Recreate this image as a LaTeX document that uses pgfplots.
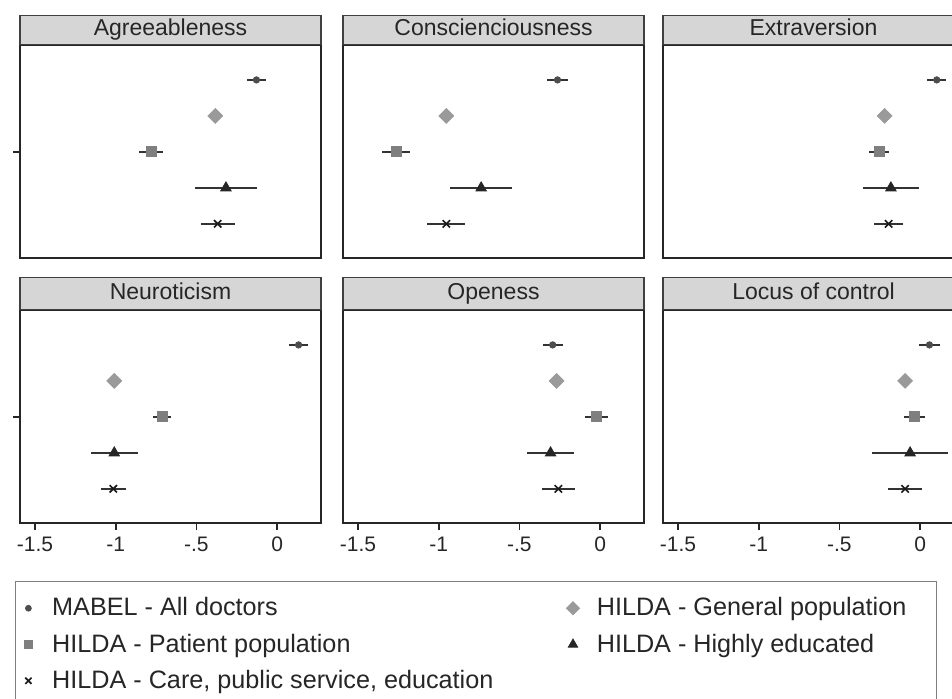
\documentclass[border=0pt]{standalone}
\usepackage{fontspec}
\setmainfont{Liberation Sans}
\usepackage{pgfplots}
\pgfplotsset{compat=1.18}
\definecolor{framecol}{HTML}{262626}
\definecolor{textcol}{HTML}{262626}
\definecolor{headfill}{HTML}{D6D6D6}
\definecolor{headdraw}{HTML}{404040}
\definecolor{legdraw}{HTML}{808080}
\definecolor{cMabel}{HTML}{4D4D4D}
\definecolor{cGen}{HTML}{9A9A9A}
\definecolor{cPat}{HTML}{7F7F7F}
\definecolor{cHigh}{HTML}{262626}
\definecolor{cCare}{HTML}{1A1A1A}
\definecolor{cErr}{HTML}{333333}
\pgfplotsset{
  panel/.style={
    width=150.5pt, height=106.5pt, scale only axis, anchor=north west,
    xmin=-1.593, xmax=0.272, ymin=0.05, ymax=5.97,
    xtick={-1.5,-1,-0.5,0}, xticklabels={-1.5,-1,-.5,0},
    ytick=\empty, xtick pos=bottom, ytick pos=left,
    tick align=outside, major tick length=3.5pt,
    axis line style={line width=1pt, draw=framecol},
    every tick/.style={line width=0.9pt, draw=framecol},
    xticklabel style={font=\fontsize{10.5pt}{12pt}\selectfont, text=textcol},
    every axis title shift=0pt,
    title style={at={(0.5,1)}, anchor=south, minimum width=150.5pt,
      inner sep=0pt, fill=headfill, draw=headdraw, line width=0.6pt,
      text height=8.4pt, text depth=2.4pt,
      font=\fontsize{11.5pt}{13pt}\selectfont, text=textcol},
  },
  toprow/.style={xtick=\empty, title style={minimum height=14.5pt}},
  botrow/.style={title style={minimum height=16pt}},
  firstcol/.style={ytick={3}, yticklabels={}},
  ebar/.style={error bars/x dir=both, error bars/x explicit, error bars/error mark=none,
    error bars/error bar style={line width=0.7pt, color=cErr}},
  mabelM/.style={only marks, mark=*, mark size=1.6pt, color=cMabel},
  genM/.style={only marks, mark=square*, mark size=2.6pt, color=cGen, mark options={rotate=45}},
  patM/.style={only marks, mark=square*, mark size=2.5pt, color=cPat},
  highM/.style={only marks, mark=triangle*, mark size=3pt, color=cHigh},
  careM/.style={only marks, mark=x, mark size=2.6pt, color=cCare, mark options={line width=0.8pt}},
  mabel/.style={mabelM, ebar},
  gen/.style={genM},
  pat/.style={patM, ebar},
  high/.style={highM, ebar},
  care/.style={careM, ebar},
}
\begin{document}
\begin{tikzpicture}
\useasboundingbox (0,0) rectangle (476pt,-349pt);
\clip (0,0) rectangle (476pt,-349pt);
% Row 1
\begin{axis}[panel, toprow, firstcol, at={(10pt,-22.5pt)}, title={Agreeableness}]
\addplot[mabel] coordinates {(-0.128,5) +- (0.061,0)};
\addplot[gen] coordinates {(-0.383,4)};
\addplot[pat] coordinates {(-0.780,3) +- (0.074,0)};
\addplot[high] coordinates {(-0.317,2) +- (0.193,0)};
\addplot[care] coordinates {(-0.368,1) +- (0.105,0)};
\end{axis}
\begin{axis}[panel, toprow, at={(171.5pt,-22.5pt)}, title={Conscienciousness}]
\addplot[mabel] coordinates {(-0.264,5) +- (0.063,0)};
\addplot[gen] coordinates {(-0.953,4)};
\addplot[pat] coordinates {(-1.265,3) +- (0.085,0)};
\addplot[high] coordinates {(-0.737,2) +- (0.190,0)};
\addplot[care] coordinates {(-0.953,1) +- (0.117,0)};
\end{axis}
\begin{axis}[panel, toprow, at={(331.5pt,-22.5pt)}, title={Extraversion}]
\addplot[mabel] coordinates {(0.103,5) +- (0.060,0)};
\addplot[gen] coordinates {(-0.220,4)};
\addplot[pat] coordinates {(-0.255,3) +- (0.062,0)};
\addplot[high] coordinates {(-0.181,2) +- (0.172,0)};
\addplot[care] coordinates {(-0.195,1) +- (0.088,0)};
\end{axis}
% Row 2
\begin{axis}[panel, botrow, firstcol, at={(10pt,-155pt)}, title={Neuroticism},
  legend columns=2,
  legend image code/.code={\path[draw=none, fill=none] (-4pt,0pt) -- (4pt,0pt); \draw[#1] plot coordinates {(0pt,0pt)};},
  legend image post style={scale=0.85},
  legend style={at={(-0.0166,-0.2723)}, anchor=north west, draw=legdraw, line width=0.6pt,
    fill=white, font=\fontsize{12.6pt}{15pt}\selectfont, text=textcol,
    inner xsep=3pt, inner ysep=8pt, row sep=7.5pt, column sep=0pt,
    nodes={inner sep=0pt},
    /tikz/every odd column/.append style={column sep=8.5pt}},
  legend cell align=left]
\addplot[forget plot, mabel] coordinates {(0.133,5) +- (0.057,0)};
\addplot[forget plot, gen] coordinates {(-1.009,4)};
\addplot[forget plot, pat] coordinates {(-0.712,3) +- (0.056,0)};
\addplot[forget plot, high] coordinates {(-1.009,2) +- (0.146,0)};
\addplot[forget plot, care] coordinates {(-1.015,1) +- (0.077,0)};
\addlegendimage{mabelM}
\addlegendentry{\makebox[257pt][l]{MABEL - All doctors}}
\addlegendimage{genM}
\addlegendentry{\makebox[167pt][l]{HILDA - General population}}
\addlegendimage{patM}
\addlegendentry{\makebox[257pt][l]{HILDA - Patient population}}
\addlegendimage{highM}
\addlegendentry{\makebox[167pt][l]{HILDA - Highly educated}}
\addlegendimage{careM}
\addlegendentry{HILDA - Care, public service, education}
\end{axis}
\begin{axis}[panel, botrow, at={(171.5pt,-155pt)}, title={Openess}]
\addplot[mabel] coordinates {(-0.294,5) +- (0.061,0)};
\addplot[gen] coordinates {(-0.270,4)};
\addplot[pat] coordinates {(-0.021,3) +- (0.072,0)};
\addplot[high] coordinates {(-0.307,2) +- (0.144,0)};
\addplot[care] coordinates {(-0.259,1) +- (0.102,0)};
\end{axis}
\begin{axis}[panel, botrow, at={(331.5pt,-155pt)}, title={Locus of control}]
\addplot[mabel] coordinates {(0.058,5) +- (0.067,0)};
\addplot[gen] coordinates {(-0.093,4)};
\addplot[pat] coordinates {(-0.037,3) +- (0.065,0)};
\addplot[high] coordinates {(-0.062,2) +- (0.235,0)};
\addplot[care] coordinates {(-0.093,1) +- (0.105,0)};
\end{axis}
\end{tikzpicture}
\end{document}
